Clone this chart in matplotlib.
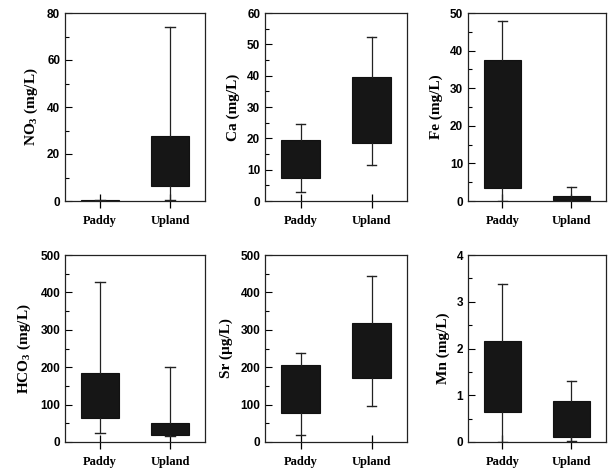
import matplotlib
matplotlib.use("Agg")
import matplotlib.pyplot as plt
from matplotlib.ticker import MultipleLocator

plt.rcParams["mathtext.fontset"] = "custom"
plt.rcParams["mathtext.rm"] = "Liberation Serif:bold"
plt.rcParams["mathtext.it"] = "Liberation Serif:bold"
plt.rcParams["mathtext.bf"] = "Liberation Serif:bold"
plt.rcParams["mathtext.default"] = "rm"

categories = ["Paddy", "Upland"]

labels = [r"NO$_3$ (mg/L)", "Ca (mg/L)", "Fe (mg/L)",
          r"HCO$_3$ (mg/L)", "Sr (\u00b5g/L)", "Mn (mg/L)"]
ymax = [80, 60, 50, 500, 500, 4]
major = [20, 10, 10, 100, 100, 1]

q1 = [[0.0, 6.5], [7.5, 18.5], [3.5, 0.3], [65, 20], [78, 170], [0.65, 0.10]]
q3 = [[0.5, 27.5], [19.5, 39.5], [37.5, 1.3], [185, 52], [205, 318], [2.15, 0.88]]
whislo = [[0.0, 0.5], [3.0, 11.5], [0.0, 0.0], [25, 15], [20, 95], [0.0, 0.03]]
whishi = [[0.5, 74.0], [24.5, 52.5], [48.0, 3.7], [428, 200], [237, 445], [3.37, 1.30]]

W, H = 609, 474
fig = plt.figure(figsize=(W / 100, H / 100), dpi=100)

cols = [(65, 205), (265, 407), (468, 606)]
rows = [(13, 201), (255, 442)]

lab_font = dict(family="Liberation Serif", weight="bold", size=11)

for i in range(6):
    r, c = divmod(i, 3)
    x0, x1 = cols[c]
    y0, y1 = rows[r]
    ax = fig.add_axes([x0 / W, 1 - y1 / H, (x1 - x0) / W, (y1 - y0) / H])
    stats = []
    for j in range(2):
        stats.append(dict(q1=q1[i][j], q3=q3[i][j], med=q1[i][j],
                          whislo=whislo[i][j], whishi=whishi[i][j], fliers=[]))
    ax.bxp(stats, positions=[1, 2], widths=0.55, capwidths=0.13,
           patch_artist=True, showfliers=False,
           boxprops=dict(facecolor="#161616", edgecolor="#111111", linewidth=0.8),
           whiskerprops=dict(color="#222222", linewidth=0.9),
           capprops=dict(color="#222222", linewidth=1.0),
           medianprops=dict(visible=False))
    ax.set_xlim(0.5, 2.5)
    ax.set_ylim(0, ymax[i])
    ax.yaxis.set_major_locator(MultipleLocator(major[i]))
    ax.yaxis.set_minor_locator(MultipleLocator(major[i] / 2))
    ax.tick_params(axis="y", which="major", direction="in", length=5, width=0.8)
    ax.tick_params(axis="y", which="minor", direction="in", length=3, width=0.8)
    ax.tick_params(axis="x", which="major", direction="inout", length=10, width=0.9, pad=5)
    ax.set_xticks([1, 2])
    ax.set_xticklabels(categories, family="Liberation Serif", weight="bold", size=9)
    for t in ax.get_yticklabels():
        t.set_fontfamily("Liberation Sans")
        t.set_fontweight("bold")
        t.set_fontsize(8.5)
    ax.set_ylabel(labels[i], labelpad=5, **lab_font)
    for s in ax.spines.values():
        s.set_linewidth(0.9)
        s.set_color("#222222")

fig.savefig("out.png", dpi=100)
